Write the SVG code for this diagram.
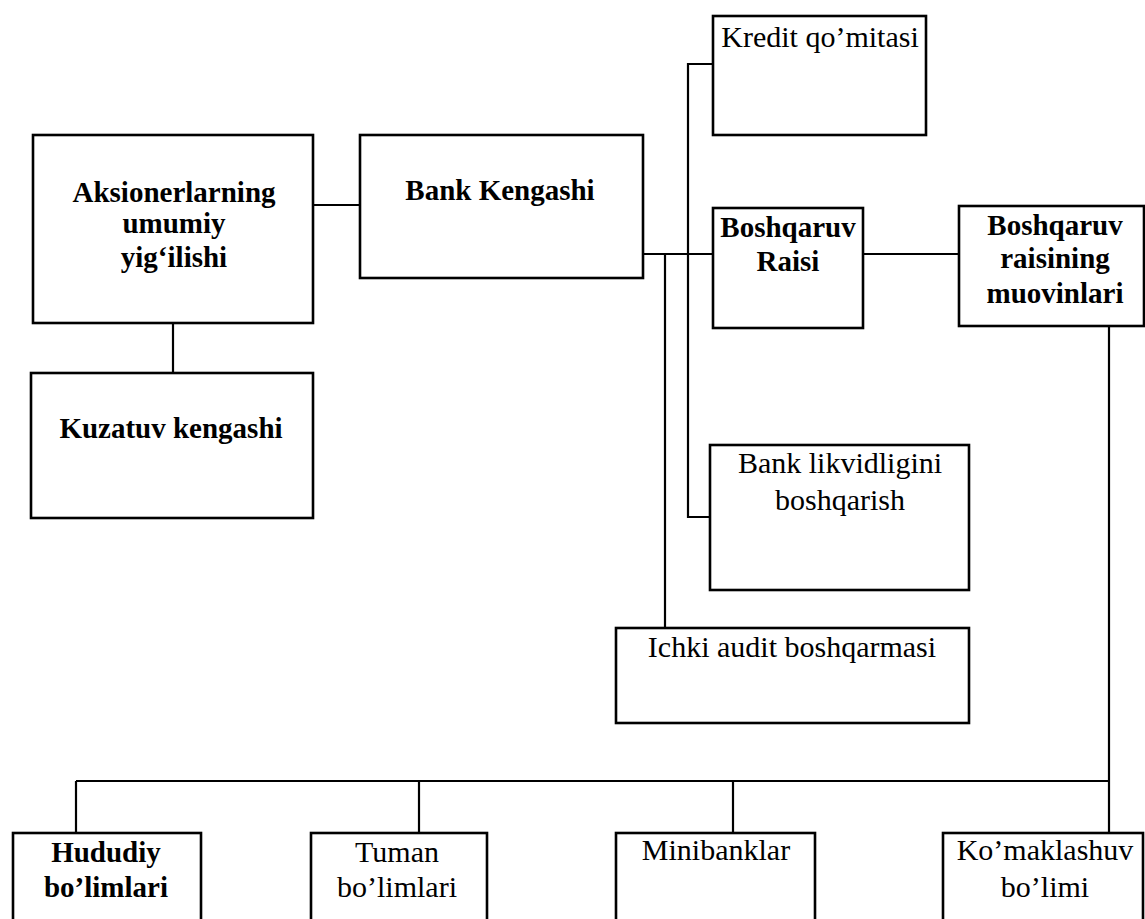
<svg xmlns="http://www.w3.org/2000/svg" width="1145" height="919" viewBox="0 0 1145 919">
<style>
  .box{fill:#fff;stroke:#000;stroke-width:2.6}
  .ln{fill:none;stroke:#000;stroke-width:2.2}
  text{font-family:"Liberation Serif","Times New Roman",serif;fill:#000;text-anchor:middle}
  .b{font-size:29px;font-weight:bold}
  .r{font-size:30px;font-weight:normal}
</style>
<rect width="1145" height="919" fill="#fff"/>
<g id="connectors">
  <line class="ln" x1="313" y1="205" x2="360" y2="205"/>
  <line class="ln" x1="173" y1="323" x2="173" y2="373"/>
  <line class="ln" x1="643" y1="254" x2="713" y2="254"/>
  <polyline class="ln" points="713,64 688,64 688,517 710,517"/>
  <line class="ln" x1="665" y1="254" x2="665" y2="628"/>
  <line class="ln" x1="863" y1="254" x2="959" y2="254"/>
  <line class="ln" x1="1109" y1="326" x2="1109" y2="833"/>
  <line class="ln" x1="76" y1="781" x2="1109" y2="781"/>
  <line class="ln" x1="76" y1="781" x2="76" y2="833"/>
  <line class="ln" x1="419" y1="781" x2="419" y2="833"/>
  <line class="ln" x1="733" y1="781" x2="733" y2="833"/>
</g>
<g id="aksionerlar">
  <rect class="box" x="33" y="135" width="280" height="188"/>
  <text class="b" x="174" y="202">Aksionerlarning</text>
  <text class="b" x="174" y="233">umumiy</text>
  <text class="b" x="174" y="267">yig‘ilishi</text>
</g>
<g id="kuzatuv">
  <rect class="box" x="31" y="373" width="282" height="145"/>
  <text class="b" x="171" y="438">Kuzatuv kengashi</text>
</g>
<g id="bank-kengashi">
  <rect class="box" x="360" y="135" width="283" height="143"/>
  <text class="b" x="500" y="200">Bank Kengashi</text>
</g>
<g id="kredit">
  <rect class="box" x="713" y="16" width="213" height="119"/>
  <text class="r" x="820" y="47">Kredit qo’mitasi</text>
</g>
<g id="raisi">
  <rect class="box" x="713" y="208" width="150" height="120"/>
  <text class="b" x="788" y="237">Boshqaruv</text>
  <text class="b" x="788" y="271">Raisi</text>
</g>
<g id="muovinlar">
  <rect class="box" x="959" y="206" width="185" height="120"/>
  <text class="b" x="1055" y="235">Boshqaruv</text>
  <text class="b" x="1055" y="268">raisining</text>
  <text class="b" x="1055" y="303">muovinlari</text>
</g>
<g id="likvidlik">
  <rect class="box" x="710" y="445" width="259" height="145"/>
  <text class="r" x="840" y="473">Bank likvidligini</text>
  <text class="r" x="840" y="510">boshqarish</text>
</g>
<g id="ichki-audit">
  <rect class="box" x="616" y="628" width="353" height="95"/>
  <text class="r" x="792" y="657">Ichki audit boshqarmasi</text>
</g>
<g id="hududiy">
  <rect class="box" x="13" y="833" width="188" height="100"/>
  <text class="b" x="106" y="862">Hududiy</text>
  <text class="b" x="106" y="897">bo’limlari</text>
</g>
<g id="tuman">
  <rect class="box" x="311" y="833" width="176" height="100"/>
  <text class="r" x="397" y="862">Tuman</text>
  <text class="r" x="397" y="897">bo’limlari</text>
</g>
<g id="minibanklar">
  <rect class="box" x="616" y="833" width="199" height="100"/>
  <text class="r" x="716" y="860">Minibanklar</text>
</g>
<g id="komaklashuv">
  <rect class="box" x="943" y="833" width="200" height="100"/>
  <text class="r" x="1045" y="860">Ko’maklashuv</text>
  <text class="r" x="1045" y="897">bo’limi</text>
</g>
</svg>
